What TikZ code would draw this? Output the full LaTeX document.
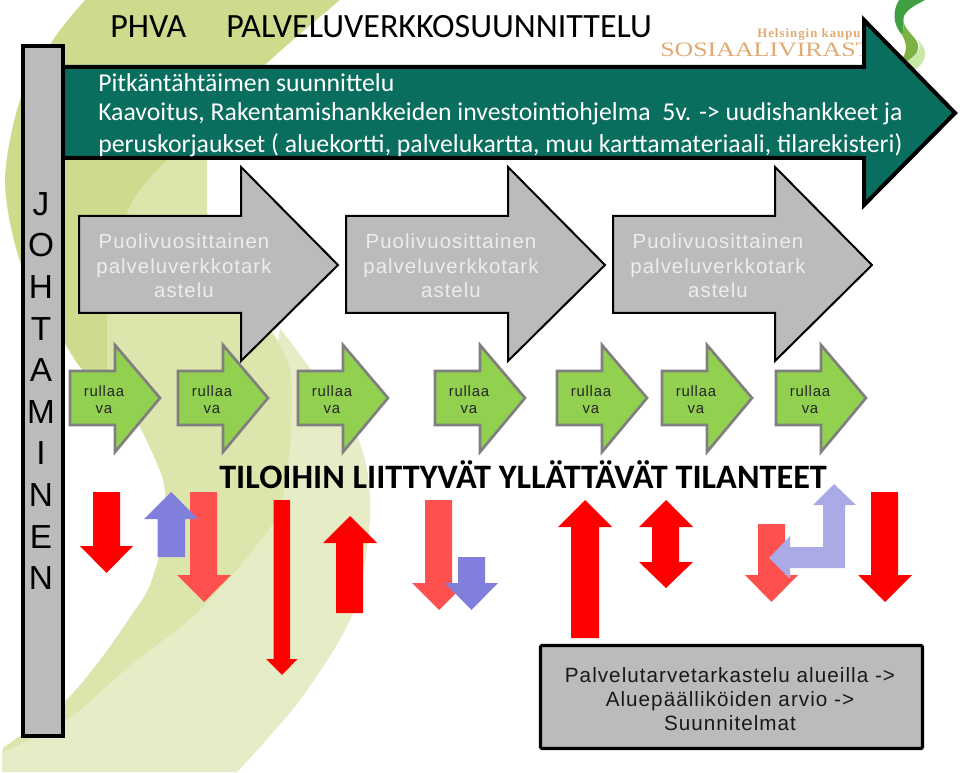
\documentclass[tikz,border=0pt]{standalone}
\usepackage{fontspec}
\setmainfont{Liberation Sans}
\newfontfamily\titlefont{Carlito}
\newfontfamily\widefont[LetterSpace=5]{Liberation Sans}
\newfontfamily\logofont{Liberation Serif}
\usepackage{xcolor}
\usetikzlibrary{positioning}
\definecolor{swooshA}{RGB}{205,220,140}
\definecolor{swooshB}{RGB}{220,230,172}
\definecolor{swooshC}{RGB}{230,237,198}
\definecolor{teal}{RGB}{9,110,94}
\definecolor{panel}{RGB}{187,187,187}
\definecolor{leaf}{RGB}{146,208,80}
\definecolor{leafline}{RGB}{127,127,127}
\definecolor{alert}{RGB}{255,0,0}
\definecolor{alertsoft}{RGB}{255,80,80}
\definecolor{calm}{RGB}{128,128,220}
\definecolor{calmsoft}{RGB}{170,170,230}
\definecolor{logotext}{RGB}{225,170,115}
\begin{document}
\begin{tikzpicture}[x=0.75pt,y=-0.75pt,
		title/.style={anchor=west, inner sep=0pt, font=\titlefont\fontsize{25.5pt}{30pt}\selectfont},
		tealtext/.style={anchor=west, inner sep=0pt, text=white, font=\titlefont\fontsize{19.3pt}{23pt}\selectfont},
		grayarr/.style={fill=panel, draw=black, line width=1.5pt, line join=miter},
		grayarrtext/.style={align=center, inner sep=0pt, text=white!93!black, font=\widefont\fontsize{15.3pt}{18.4pt}\selectfont},
		greenarr/.style={fill=leaf, draw=leafline, line width=2pt, line join=miter},
		greentext/.style={align=center, inner sep=0pt, text=black!85, font=\widefont\fontsize{11.2pt}{12.8pt}\selectfont}]
	\useasboundingbox (0,0) rectangle (960,773);
	\fill[white] (0,0) rectangle (960,773);
	\fill[swooshC] (2,772) -- (237,772) -- plot[smooth] coordinates {(237,772) (300,700) (353,613) (370,520) (365,460) (345,410) (317,377) (280,328)}
		-- (270,400) -- (250,520) -- (180,610) -- (120,660) -- (55,715) -- (2,751) -- cycle;
	\fill[swooshB] (100,160) -- (207,160) -- (207,215)
		-- plot[smooth] coordinates {(207,215) (225,285) (267,325) (290,370) (291,430) (287,470) (273,523) (200,610) (133,663) (67,720) (3,752)}
		-- (3,748) -- plot[smooth] coordinates {(3,748) (63,703) (100,660) (133,613) (150,585) (165,530) (163,480) (140,427)}
		-- (107,372) -- cycle;
	\fill[swooshA] plot[smooth] coordinates {(85,0) (53,40) (20,100) (5,183) (22,267) (63,340) (77,363) (85,372)}
		-- (107,372) -- (107,313) -- plot[smooth] coordinates {(107,313) (116,250) (133,200) (167,160) (267,63) (340,0)} -- cycle;
	\fill[green!50!black!75] (899,0) .. controls (892,12) and (893,24) .. (902,35)
		.. controls (905,28) and (902,20) .. (904,16) .. controls (908,8) and (918,4) .. (925,0) -- cycle;
	\fill[leaf!85!black] (904,16) .. controls (902,24) and (906,28) .. (911,34)
		.. controls (921,44) and (921,52) .. (908,62) -- (903,58)
		.. controls (908,48) and (906,42) .. (902,35) .. controls (905,28) and (902,20) .. (904,16) -- cycle;
	\fill[leaf!50] (918,40) .. controls (928,50) and (928,60) .. (915,70) -- (906,62)
		.. controls (921,52) and (921,46) .. (918,40) -- cycle;
	\node[anchor=west, inner sep=0pt, text=logotext] (cityname) at (757,34)
		{\logofont\bfseries\fontsize{9.6pt}{11pt}\selectfont\addfontfeature{LetterSpace=8}Helsingin kaupu};
	\node[anchor=west, inner sep=0pt, text=logotext] (office) at (660,50)
		{\scalebox{1.26}[1]{\logofont\fontsize{15.4pt}{17pt}\selectfont SOSIAALIVIRAST}};
	\node[title] (phva) at (110,27) {PHVA};
	\node[title] (headline) at (226,27) {PALVELUVERKKOSUUNNITTELU};
	\draw[fill=teal, draw=black, line width=3pt, line join=miter] (63,67) -- (864,67) -- (864,20) -- (955,113)
		-- (864,205) -- (864,158) -- (63,158) -- cycle;
	\node[tealtext] (longa) at (98,83) {Pitkäntähtäimen suunnittelu};
	\node[tealtext] (longb) at (98,114) {Kaavoitus, Rakentamishankkeiden investointiohjelma\ \ 5v. -> uudishankkeet ja};
	\node[tealtext] (longc) at (98,145) {peruskorjaukset ( aluekortti, palvelukartta, muu karttamateriaali, tilarekisteri)};
	\draw[fill=panel, draw=black, line width=2.4pt] (23,46) rectangle (63,736);
	\node[align=center, inner sep=0pt, font=\fontsize{25pt}{31.2pt}\selectfont] (johtaminen) at (41,391)
		{J\\O\\H\\T\\A\\M\\I\\N\\E\\N};
	\foreach \x/\name in {79/one,346/two,613/three}{
		\draw[grayarr] (\x,216) -- (\x+162,216) -- (\x+162,167) -- (\x+259,265)
			-- (\x+162,361) -- (\x+162,313) -- (\x,313) -- cycle;
		\node[grayarrtext] (half\name) at (\x+105,266) {Puolivuosittainen\\palveluverkkotark\\astelu};
	}
	\foreach \x/\name in {70/a,178/b,298/c,435/d,557/e,662/f,776/g}{
		\draw[greenarr] (\x,371) -- (\x+45,371) -- (\x+45,345) -- (\x+90,398)
			-- (\x+45,452) -- (\x+45,425) -- (\x,425) -- cycle;
		\node[greentext] (roll\name) at (\x+34,400) {rullaa\\va};
	}
	\node[anchor=west, inner sep=0pt, font=\titlefont\bfseries\fontsize{25.7pt}{30pt}\selectfont] (surprises) at (219,475)
		{TILOIHIN LIITTYVÄT YLLÄTTÄVÄT TILANTEET};
	% down and up block arrows
	\fill[alert] (93,492) -- (120,492) -- (120,546) -- (133,546) -- (106.5,573) -- (80,546) -- (93,546) -- cycle;
	\fill[alertsoft] (190,492) -- (217,492) -- (217,575) -- (231,575) -- (204,602) -- (177,575) -- (190,575) -- cycle;
	\fill[calm] (157.5,557) -- (185,557) -- (185,519) -- (198,519) -- (171,492) -- (144,519) -- (157.5,519) -- cycle;
	\fill[alert] (273.5,500) -- (290,500) -- (290,659) -- (297.5,659) -- (282,675) -- (266,659) -- (273.5,659) -- cycle;
	\fill[alert] (336,613) -- (363,613) -- (363,543) -- (377,543) -- (350,516) -- (323,543) -- (336,543) -- cycle;
	\fill[alertsoft] (425,500) -- (452,500) -- (452,583) -- (466,583) -- (439,610) -- (412,583) -- (425,583) -- cycle;
	\fill[calm] (458,557) -- (485,557) -- (485,583) -- (498,583) -- (471.5,610) -- (445,583) -- (458,583) -- cycle;
	\fill[alert] (571,638) -- (599,638) -- (599,527) -- (612,527) -- (585,500) -- (558,527) -- (571,527) -- cycle;
	\fill[alert] (666,500) -- (693,527) -- (679,527) -- (679,562) -- (693,562) -- (666,588)
		-- (639,562) -- (652,562) -- (652,527) -- (639,527) -- cycle;
	\fill[alertsoft] (758,524) -- (785,524) -- (785,575) -- (798,575) -- (771.5,602) -- (745,575) -- (758,575) -- cycle;
	\fill[calmsoft] (834,484) -- (856,505) -- (845,505) -- (845,568) -- (790,568) -- (790,579) -- (769,558)
		-- (790,536) -- (790,547) -- (823,547) -- (823,505) -- (813,505) -- cycle;
	\fill[alert] (871,492) -- (898,492) -- (898,575) -- (912,575) -- (885,602) -- (858,575) -- (871,575) -- cycle;
	\node[draw=black, fill=panel, line width=2.4pt, rounded corners=1pt, minimum width=382*0.75pt, minimum height=103*0.75pt] (reviewbox) at (731.5,697) {};
	\node[align=center, inner sep=0pt, text=black!90, font=\widefont\fontsize{15.5pt}{18pt}\selectfont] (review) at (730,699)
		{Palvelutarvetarkastelu alueilla ->\\Aluepäälliköiden arvio ->\\Suunnitelmat};
\end{tikzpicture}
\end{document}
